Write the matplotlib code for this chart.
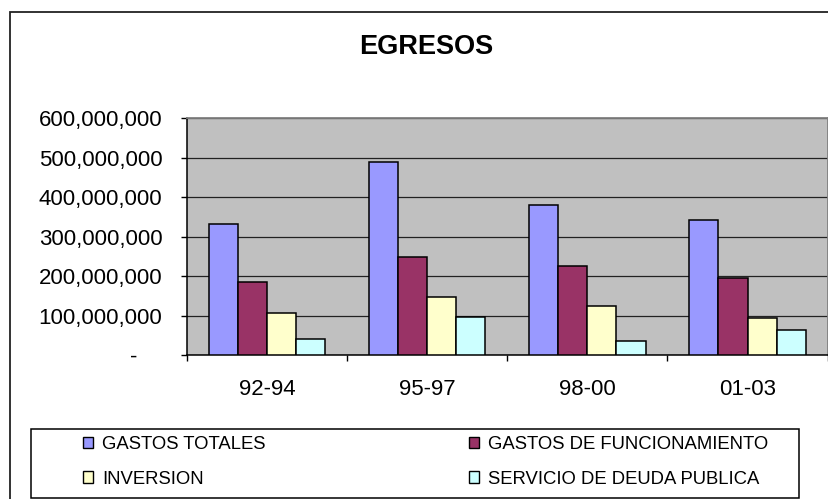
import matplotlib
matplotlib.use("Agg")
import matplotlib.pyplot as plt
import matplotlib.transforms as mtransforms
from matplotlib.patches import Rectangle, Patch
import numpy as np

plt.rcParams['font.family'] = ['Liberation Sans', 'DejaVu Sans']

categories = ['92-94', '95-97', '98-00', '01-03']
series_names = ['GASTOS TOTALES', 'GASTOS DE FUNCIONAMIENTO', 'INVERSION', 'SERVICIO DE DEUDA PUBLICA']
gastos_totales = [333_000_000, 488_000_000, 381_000_000, 342_000_000]
gastos_funcionamiento = [186_000_000, 249_000_000, 226_000_000, 196_000_000]
inversion = [106_000_000, 146_000_000, 125_000_000, 93_000_000]
servicio_deuda = [40_000_000, 96_000_000, 36_000_000, 63_000_000]
y_ticks = [0, 100_000_000, 200_000_000, 300_000_000, 400_000_000, 500_000_000, 600_000_000]
title = 'EGRESOS'

colors = ['#9999FF', '#993366', '#FFFFCC', '#CCFFFF']
series = [gastos_totales, gastos_funcionamiento, inversion, servicio_deuda]

W, H = 829, 499
fig = plt.figure(figsize=(W / 100, H / 100), dpi=100)
fig.patch.set_facecolor('white')

# outer chart frame
fig.add_artist(Rectangle((10 / W, -0.1), 1.2, 1 - 12 / H + 0.1, transform=fig.transFigure,
                         fill=False, edgecolor='#222222', linewidth=1.3))

ax = fig.add_axes([186.7 / W, 1 - 355 / H, (827.7 - 186.7) / W, (355 - 118.3) / H])
ax.set_facecolor('#C0C0C0')

x = np.arange(len(categories))
n = len(series)
bw = 1 / (n + 1.5)
for i, (vals, c) in enumerate(zip(series, colors)):
    ax.bar(x + (i - (n - 1) / 2) * bw, vals, width=bw, color=c, edgecolor='black',
           linewidth=1.1, zorder=3)

ax.set_xlim(-0.5, len(categories) - 0.5)
ax.set_ylim(0, 600_000_000)
ax.set_yticks(y_ticks)
ax.set_yticklabels(['-' if v == 0 else f'{v:,.0f}' for v in y_ticks])
ax.yaxis.grid(True, color='#222222', linewidth=0.9, zorder=1)
ax.set_axisbelow(True)

ax.set_xticks(x)
ax.set_xticklabels(categories)
ax.set_xticks(np.arange(len(categories) + 1) - 0.5, minor=True)
ax.tick_params(axis='x', which='major', length=0, pad=17, labelsize=16)
ax.tick_params(axis='x', which='minor', length=4.5, width=1, color='black', direction='out')
ax.tick_params(axis='y', length=4.5, width=1, color='black', direction='out', pad=13, labelsize=16)

for s in ['top', 'right']:
    ax.spines[s].set_color('#808080')
    ax.spines[s].set_linewidth(1.3)
for s in ['left', 'bottom']:
    ax.spines[s].set_color('black')
    ax.spines[s].set_linewidth(1.1)

# accounting-style dash for zero
for lab in ax.get_yticklabels():
    if lab.get_text() == '-':
        lab.set_transform(lab.get_transform() + mtransforms.ScaledTranslation(-0.25, 0, fig.dpi_scale_trans))

fig.text(426 / W, 1 - 47.5 / H, title, ha='center', va='center', fontsize=19.5, fontweight='bold')

# legend box
fig.add_artist(Rectangle((31 / W, 1 - 498 / H), (799 - 31) / W, (498 - 429) / H,
                         transform=fig.transFigure, fill=False, edgecolor='black', linewidth=1.1))
handles = [Patch(facecolor=c, edgecolor='black', linewidth=1.0) for c in colors]
order = [0, 2, 1, 3]
fig.legend([handles[k] for k in order], [series_names[k] for k in order], ncol=2,
           loc='upper left', bbox_to_anchor=(83 / W, 1 - 436 / H), frameon=False,
           fontsize=13.3, handlelength=0.55, handleheight=0.55, handletextpad=0.5,
           columnspacing=11.0, labelspacing=0.95, borderpad=0, borderaxespad=0)

fig.savefig('out.png', dpi=100)
